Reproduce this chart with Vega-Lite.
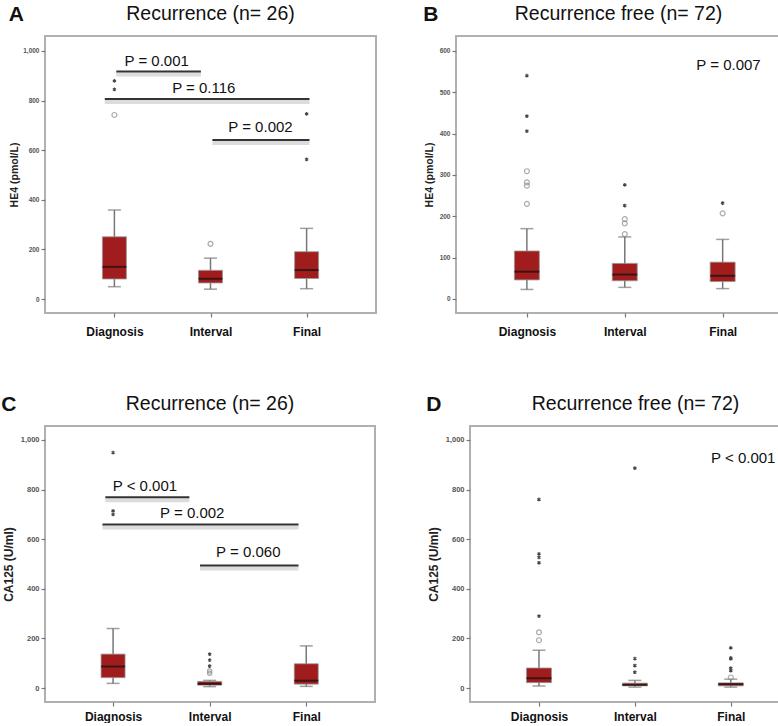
{
  "$schema": "https://vega.github.io/schema/vega-lite/v6.json",
  "background": "white",
  "padding": {"left": 1, "top": 2, "right": 0, "bottom": 0},
  "config": {
    "font": "Liberation Sans",
    "view": {"stroke": "#b0b0b0", "strokeWidth": 2},
    "axis": {"grid": false, "domain": false, "tickColor": "#777", "tickSize": 4, "tickWidth": 1.2, "labelColor": "#555", "labelFontWeight": "bold", "titleFontWeight": "bold", "titleColor": "#222"},
    "title": {"color": "#111"}
  },
  "datasets": {
    "boxes": [
      {"panel": "A", "group": "Diagnosis", "idx": 1, "lo": 50, "q1": 81, "med": 130, "q3": 251, "hi": 359},
      {"panel": "A", "group": "Interval", "idx": 2, "lo": 40, "q1": 65, "med": 82, "q3": 116, "hi": 165},
      {"panel": "A", "group": "Final", "idx": 3, "lo": 42, "q1": 83, "med": 117, "q3": 191, "hi": 285},
      {"panel": "B", "group": "Diagnosis", "idx": 1, "lo": 23, "q1": 46, "med": 66, "q3": 116, "hi": 170},
      {"panel": "B", "group": "Interval", "idx": 2, "lo": 28, "q1": 44, "med": 59, "q3": 86, "hi": 150},
      {"panel": "B", "group": "Final", "idx": 3, "lo": 25, "q1": 42, "med": 56, "q3": 89, "hi": 144},
      {"panel": "C", "group": "Diagnosis", "idx": 1, "lo": 19, "q1": 42, "med": 87, "q3": 137, "hi": 240},
      {"panel": "C", "group": "Interval", "idx": 2, "lo": 6, "q1": 12, "med": 17, "q3": 27, "hi": 31},
      {"panel": "C", "group": "Final", "idx": 3, "lo": 7, "q1": 16, "med": 30, "q3": 98, "hi": 170},
      {"panel": "D", "group": "Diagnosis", "idx": 1, "lo": 8, "q1": 22, "med": 40, "q3": 81, "hi": 152},
      {"panel": "D", "group": "Interval", "idx": 2, "lo": 4, "q1": 9, "med": 13, "q3": 20, "hi": 31},
      {"panel": "D", "group": "Final", "idx": 3, "lo": 4, "q1": 9, "med": 16, "q3": 21, "hi": 36}
    ],
    "outliers": [
      {"panel": "A", "idx": 1, "value": 879, "kind": "star"},
      {"panel": "A", "idx": 1, "value": 845, "kind": "star"},
      {"panel": "A", "idx": 1, "value": 742, "kind": "circle"},
      {"panel": "A", "idx": 2, "value": 223, "kind": "circle"},
      {"panel": "A", "idx": 3, "value": 746, "kind": "star"},
      {"panel": "A", "idx": 3, "value": 563, "kind": "star"},
      {"panel": "B", "idx": 1, "value": 540, "kind": "star"},
      {"panel": "B", "idx": 1, "value": 442, "kind": "star"},
      {"panel": "B", "idx": 1, "value": 406, "kind": "star"},
      {"panel": "B", "idx": 1, "value": 309, "kind": "circle"},
      {"panel": "B", "idx": 1, "value": 282, "kind": "circle"},
      {"panel": "B", "idx": 1, "value": 274, "kind": "circle"},
      {"panel": "B", "idx": 1, "value": 230, "kind": "circle"},
      {"panel": "B", "idx": 2, "value": 276, "kind": "star"},
      {"panel": "B", "idx": 2, "value": 226, "kind": "star"},
      {"panel": "B", "idx": 2, "value": 193, "kind": "circle"},
      {"panel": "B", "idx": 2, "value": 183, "kind": "circle"},
      {"panel": "B", "idx": 2, "value": 157, "kind": "circle"},
      {"panel": "B", "idx": 3, "value": 232, "kind": "star"},
      {"panel": "B", "idx": 3, "value": 207, "kind": "circle"},
      {"panel": "C", "idx": 1, "value": 949, "kind": "star"},
      {"panel": "C", "idx": 1, "value": 714, "kind": "star"},
      {"panel": "C", "idx": 1, "value": 700, "kind": "star"},
      {"panel": "C", "idx": 2, "value": 137, "kind": "star"},
      {"panel": "C", "idx": 2, "value": 113, "kind": "star"},
      {"panel": "C", "idx": 2, "value": 89, "kind": "star"},
      {"panel": "C", "idx": 2, "value": 69, "kind": "circle"},
      {"panel": "C", "idx": 2, "value": 60, "kind": "circle"},
      {"panel": "D", "idx": 1, "value": 760, "kind": "star"},
      {"panel": "D", "idx": 1, "value": 541, "kind": "star"},
      {"panel": "D", "idx": 1, "value": 527, "kind": "star"},
      {"panel": "D", "idx": 1, "value": 505, "kind": "star"},
      {"panel": "D", "idx": 1, "value": 290, "kind": "star"},
      {"panel": "D", "idx": 1, "value": 225, "kind": "circle"},
      {"panel": "D", "idx": 1, "value": 193, "kind": "circle"},
      {"panel": "D", "idx": 2, "value": 886, "kind": "star"},
      {"panel": "D", "idx": 2, "value": 119, "kind": "star"},
      {"panel": "D", "idx": 2, "value": 91, "kind": "star"},
      {"panel": "D", "idx": 2, "value": 64, "kind": "star"},
      {"panel": "D", "idx": 3, "value": 162, "kind": "star"},
      {"panel": "D", "idx": 3, "value": 122, "kind": "star"},
      {"panel": "D", "idx": 3, "value": 118, "kind": "star"},
      {"panel": "D", "idx": 3, "value": 80, "kind": "star"},
      {"panel": "D", "idx": 3, "value": 70, "kind": "star"},
      {"panel": "D", "idx": 3, "value": 43, "kind": "circle"}
    ],
    "plines": [
      {"panel": "A", "x1": 1.02, "x2": 1.9, "y": 917},
      {"panel": "A", "x1": 0.9, "x2": 3.03, "y": 806},
      {"panel": "A", "x1": 2.02, "x2": 3.03, "y": 641},
      {"panel": "C", "x1": 0.92, "x2": 1.79, "y": 769},
      {"panel": "C", "x1": 0.89, "x2": 2.92, "y": 659},
      {"panel": "C", "x1": 1.9, "x2": 2.92, "y": 494}
    ],
    "ptexts": [
      {"panel": "A", "x": 1.44, "y": 961, "label": "P = 0.001"},
      {"panel": "A", "x": 1.93, "y": 849, "label": "P = 0.116"},
      {"panel": "A", "x": 2.52, "y": 693, "label": "P = 0.002"},
      {"panel": "B", "x": 3.06, "y": 566, "label": "P = 0.007"},
      {"panel": "C", "x": 1.33, "y": 815, "label": "P < 0.001"},
      {"panel": "C", "x": 1.82, "y": 705, "label": "P = 0.002"},
      {"panel": "C", "x": 2.4, "y": 550, "label": "P = 0.060"},
      {"panel": "D", "x": 3.13, "y": 927, "label": "P < 0.001"}
    ]
  },
  "spacing": 54,
  "vconcat": [
    {
      "spacing": 46,
      "hconcat": [
        {
          "title": {"text": "A", "anchor": "start", "frame": "bounds", "fontSize": 21, "fontWeight": "bold", "offset": -22},
          "vconcat": [{
            "title": {"text": "Recurrence (n= 26)", "fontSize": 19.5, "fontWeight": "normal", "offset": 12},
            "width": 331, "height": 277,
            "layer": [
              {"data": {"name": "boxes"}, "transform": [{"filter": "datum.panel == 'A'"}],
               "mark": {"type": "rule", "color": "#777", "strokeWidth": 1.5},
               "encoding": {
                 "x": {"field": "idx", "type": "quantitative", "scale": {"domain": [0.33, 3.67], "nice": false, "zero": false},
                       "axis": {"values": [1, 2, 3], "labelExpr": "datum.value == 1 ? 'Diagnosis' : datum.value == 2 ? 'Interval' : 'Final'", "title": null, "labelFontSize": 12, "labelColor": "#111", "labelPadding": 9}},
                 "y": {"field": "lo", "type": "quantitative", "scale": {"domain": [-56, 1060], "nice": false, "zero": false},
                       "axis": {"values": [0, 200, 400, 600, 800, 1000], "format": ",.0f", "labelFontSize": 6.5, "labelPadding": 2, "title": "HE4 (pmol/L)", "titleFontSize": 10.5, "titlePadding": 3}},
                 "y2": {"field": "hi"}}},
              {"data": {"name": "boxes"}, "transform": [{"filter": "datum.panel == 'A'"}],
               "mark": {"type": "tick", "orient": "horizontal", "size": 13, "thickness": 1.5, "color": "#777"},
               "encoding": {"x": {"field": "idx", "type": "quantitative"}, "y": {"field": "lo", "type": "quantitative"}}},
              {"data": {"name": "boxes"}, "transform": [{"filter": "datum.panel == 'A'"}],
               "mark": {"type": "tick", "orient": "horizontal", "size": 13, "thickness": 1.5, "color": "#777"},
               "encoding": {"x": {"field": "idx", "type": "quantitative"}, "y": {"field": "hi", "type": "quantitative"}}},
              {"data": {"name": "boxes"}, "transform": [{"filter": "datum.panel == 'A'"}],
               "mark": {"type": "bar", "size": 24, "color": "#a11d1d", "stroke": "#999", "strokeWidth": 0.8},
               "encoding": {"x": {"field": "idx", "type": "quantitative"}, "y": {"field": "q1", "type": "quantitative"}, "y2": {"field": "q3"}}},
              {"data": {"name": "boxes"}, "transform": [{"filter": "datum.panel == 'A'"}],
               "mark": {"type": "tick", "orient": "horizontal", "size": 24, "thickness": 2, "color": "#111"},
               "encoding": {"x": {"field": "idx", "type": "quantitative"}, "y": {"field": "med", "type": "quantitative"}}},
              {"data": {"name": "outliers"}, "transform": [{"filter": "datum.panel == 'A' && datum.kind == 'circle'"}],
               "mark": {"type": "point", "shape": "circle", "filled": false, "size": 24, "color": "#888", "strokeWidth": 1.2},
               "encoding": {"x": {"field": "idx", "type": "quantitative"}, "y": {"field": "value", "type": "quantitative"}}},
              {"data": {"name": "outliers"}, "transform": [{"filter": "datum.panel == 'A' && datum.kind == 'star'"}],
               "mark": {"type": "point", "shape": "M0,-1L0,1M-0.87,-0.5L0.87,0.5M-0.87,0.5L0.87,-0.5", "filled": false, "size": 14, "color": "#444", "strokeWidth": 1.1, "opacity": 1},
               "encoding": {"x": {"field": "idx", "type": "quantitative"}, "y": {"field": "value", "type": "quantitative"}}},
              {"data": {"name": "plines"}, "transform": [{"filter": "datum.panel == 'A'"}],
               "mark": {"type": "rule", "color": "#dcdcdc", "strokeWidth": 4, "yOffset": 3},
               "encoding": {"x": {"field": "x1", "type": "quantitative"}, "x2": {"field": "x2"}, "y": {"field": "y", "type": "quantitative"}}},
              {"data": {"name": "plines"}, "transform": [{"filter": "datum.panel == 'A'"}],
               "mark": {"type": "rule", "color": "#333", "strokeWidth": 2},
               "encoding": {"x": {"field": "x1", "type": "quantitative"}, "x2": {"field": "x2"}, "y": {"field": "y", "type": "quantitative"}}},
              {"data": {"name": "ptexts"}, "transform": [{"filter": "datum.panel == 'A'"}],
               "mark": {"type": "text", "fontSize": 15, "color": "#111", "baseline": "middle", "align": "center"},
               "encoding": {"x": {"field": "x", "type": "quantitative"}, "y": {"field": "y", "type": "quantitative"}, "text": {"field": "label"}}}
            ]
          }]
        },
        {
          "title": {"text": "B", "anchor": "start", "frame": "bounds", "fontSize": 21, "fontWeight": "bold", "offset": -22},
          "vconcat": [{
            "title": {"text": "Recurrence free (n= 72)", "fontSize": 19.5, "fontWeight": "normal", "offset": 12},
            "width": 325, "height": 277,
            "layer": [
              {"data": {"name": "boxes"}, "transform": [{"filter": "datum.panel == 'B'"}],
               "mark": {"type": "rule", "color": "#777", "strokeWidth": 1.5},
               "encoding": {
                 "x": {"field": "idx", "type": "quantitative", "scale": {"domain": [0.327, 3.545], "nice": false, "zero": false},
                       "axis": {"values": [1, 2, 3], "labelExpr": "datum.value == 1 ? 'Diagnosis' : datum.value == 2 ? 'Interval' : 'Final'", "title": null, "labelFontSize": 12, "labelColor": "#111", "labelPadding": 9}},
                 "y": {"field": "lo", "type": "quantitative", "scale": {"domain": [-34, 636], "nice": false, "zero": false},
                       "axis": {"values": [0, 100, 200, 300, 400, 500, 600], "format": ",.0f", "labelFontSize": 6.5, "labelPadding": 2, "title": "HE4 (pmol/L)", "titleFontSize": 10.5, "titlePadding": 5}},
                 "y2": {"field": "hi"}}},
              {"data": {"name": "boxes"}, "transform": [{"filter": "datum.panel == 'B'"}],
               "mark": {"type": "tick", "orient": "horizontal", "size": 13, "thickness": 1.5, "color": "#777"},
               "encoding": {"x": {"field": "idx", "type": "quantitative"}, "y": {"field": "lo", "type": "quantitative"}}},
              {"data": {"name": "boxes"}, "transform": [{"filter": "datum.panel == 'B'"}],
               "mark": {"type": "tick", "orient": "horizontal", "size": 13, "thickness": 1.5, "color": "#777"},
               "encoding": {"x": {"field": "idx", "type": "quantitative"}, "y": {"field": "hi", "type": "quantitative"}}},
              {"data": {"name": "boxes"}, "transform": [{"filter": "datum.panel == 'B'"}],
               "mark": {"type": "bar", "size": 25, "color": "#a11d1d", "stroke": "#999", "strokeWidth": 0.8},
               "encoding": {"x": {"field": "idx", "type": "quantitative"}, "y": {"field": "q1", "type": "quantitative"}, "y2": {"field": "q3"}}},
              {"data": {"name": "boxes"}, "transform": [{"filter": "datum.panel == 'B'"}],
               "mark": {"type": "tick", "orient": "horizontal", "size": 25, "thickness": 2, "color": "#111"},
               "encoding": {"x": {"field": "idx", "type": "quantitative"}, "y": {"field": "med", "type": "quantitative"}}},
              {"data": {"name": "outliers"}, "transform": [{"filter": "datum.panel == 'B' && datum.kind == 'circle'"}],
               "mark": {"type": "point", "shape": "circle", "filled": false, "size": 24, "color": "#888", "strokeWidth": 1.2},
               "encoding": {"x": {"field": "idx", "type": "quantitative"}, "y": {"field": "value", "type": "quantitative"}}},
              {"data": {"name": "outliers"}, "transform": [{"filter": "datum.panel == 'B' && datum.kind == 'star'"}],
               "mark": {"type": "point", "shape": "M0,-1L0,1M-0.87,-0.5L0.87,0.5M-0.87,0.5L0.87,-0.5", "filled": false, "size": 14, "color": "#444", "strokeWidth": 1.1, "opacity": 1},
               "encoding": {"x": {"field": "idx", "type": "quantitative"}, "y": {"field": "value", "type": "quantitative"}}},
              {"data": {"name": "ptexts"}, "transform": [{"filter": "datum.panel == 'B'"}],
               "mark": {"type": "text", "fontSize": 15, "color": "#111", "baseline": "middle", "align": "center"},
               "encoding": {"x": {"field": "x", "type": "quantitative"}, "y": {"field": "y", "type": "quantitative"}, "text": {"field": "label"}}}
            ]
          }]
        }
      ]
    },
    {
      "spacing": 50,
      "hconcat": [
        {
          "title": {"text": "C", "anchor": "start", "frame": "bounds", "fontSize": 21, "fontWeight": "bold", "offset": -22},
          "vconcat": [{
            "title": {"text": "Recurrence (n= 26)", "fontSize": 19.5, "fontWeight": "normal", "offset": 12},
            "width": 330, "height": 276,
            "layer": [
              {"data": {"name": "boxes"}, "transform": [{"filter": "datum.panel == 'C'"}],
               "mark": {"type": "rule", "color": "#777", "strokeWidth": 1.5},
               "encoding": {
                 "x": {"field": "idx", "type": "quantitative", "scale": {"domain": [0.347, 3.66], "nice": false, "zero": false},
                       "axis": {"values": [1, 2, 3], "labelExpr": "datum.value == 1 ? 'Diagnosis' : datum.value == 2 ? 'Interval' : 'Final'", "title": null, "labelFontSize": 12, "labelColor": "#111", "labelPadding": 5}},
                 "y": {"field": "lo", "type": "quantitative", "scale": {"domain": [-56, 1056], "nice": false, "zero": false},
                       "axis": {"values": [0, 200, 400, 600, 800, 1000], "format": ",.0f", "labelFontSize": 7.5, "labelPadding": 2, "title": "CA125 (U/ml)", "titleFontSize": 12, "titlePadding": 5}},
                 "y2": {"field": "hi"}}},
              {"data": {"name": "boxes"}, "transform": [{"filter": "datum.panel == 'C'"}],
               "mark": {"type": "tick", "orient": "horizontal", "size": 13, "thickness": 1.5, "color": "#777"},
               "encoding": {"x": {"field": "idx", "type": "quantitative"}, "y": {"field": "lo", "type": "quantitative"}}},
              {"data": {"name": "boxes"}, "transform": [{"filter": "datum.panel == 'C'"}],
               "mark": {"type": "tick", "orient": "horizontal", "size": 13, "thickness": 1.5, "color": "#777"},
               "encoding": {"x": {"field": "idx", "type": "quantitative"}, "y": {"field": "hi", "type": "quantitative"}}},
              {"data": {"name": "boxes"}, "transform": [{"filter": "datum.panel == 'C'"}],
               "mark": {"type": "bar", "size": 24, "color": "#a11d1d", "stroke": "#999", "strokeWidth": 0.8},
               "encoding": {"x": {"field": "idx", "type": "quantitative"}, "y": {"field": "q1", "type": "quantitative"}, "y2": {"field": "q3"}}},
              {"data": {"name": "boxes"}, "transform": [{"filter": "datum.panel == 'C'"}],
               "mark": {"type": "tick", "orient": "horizontal", "size": 24, "thickness": 2, "color": "#111"},
               "encoding": {"x": {"field": "idx", "type": "quantitative"}, "y": {"field": "med", "type": "quantitative"}}},
              {"data": {"name": "outliers"}, "transform": [{"filter": "datum.panel == 'C' && datum.kind == 'circle'"}],
               "mark": {"type": "point", "shape": "circle", "filled": false, "size": 18, "color": "#888", "strokeWidth": 1.2},
               "encoding": {"x": {"field": "idx", "type": "quantitative"}, "y": {"field": "value", "type": "quantitative"}}},
              {"data": {"name": "outliers"}, "transform": [{"filter": "datum.panel == 'C' && datum.kind == 'star'"}],
               "mark": {"type": "point", "shape": "M0,-1L0,1M-0.87,-0.5L0.87,0.5M-0.87,0.5L0.87,-0.5", "filled": false, "size": 14, "color": "#444", "strokeWidth": 1.1, "opacity": 1},
               "encoding": {"x": {"field": "idx", "type": "quantitative"}, "y": {"field": "value", "type": "quantitative"}}},
              {"data": {"name": "plines"}, "transform": [{"filter": "datum.panel == 'C'"}],
               "mark": {"type": "rule", "color": "#dcdcdc", "strokeWidth": 4, "yOffset": 3},
               "encoding": {"x": {"field": "x1", "type": "quantitative"}, "x2": {"field": "x2"}, "y": {"field": "y", "type": "quantitative"}}},
              {"data": {"name": "plines"}, "transform": [{"filter": "datum.panel == 'C'"}],
               "mark": {"type": "rule", "color": "#333", "strokeWidth": 2},
               "encoding": {"x": {"field": "x1", "type": "quantitative"}, "x2": {"field": "x2"}, "y": {"field": "y", "type": "quantitative"}}},
              {"data": {"name": "ptexts"}, "transform": [{"filter": "datum.panel == 'C'"}],
               "mark": {"type": "text", "fontSize": 15, "color": "#111", "baseline": "middle", "align": "center"},
               "encoding": {"x": {"field": "x", "type": "quantitative"}, "y": {"field": "y", "type": "quantitative"}, "text": {"field": "label"}}}
            ]
          }]
        },
        {
          "title": {"text": "D", "anchor": "start", "frame": "bounds", "fontSize": 21, "fontWeight": "bold", "offset": -22},
          "vconcat": [{
            "title": {"text": "Recurrence free (n= 72)", "fontSize": 19.5, "fontWeight": "normal", "offset": 12},
            "width": 331, "height": 276,
            "layer": [
              {"data": {"name": "boxes"}, "transform": [{"filter": "datum.panel == 'D'"}],
               "mark": {"type": "rule", "color": "#777", "strokeWidth": 1.5},
               "encoding": {
                 "x": {"field": "idx", "type": "quantitative", "scale": {"domain": [0.333, 3.68], "nice": false, "zero": false},
                       "axis": {"values": [1, 2, 3], "labelExpr": "datum.value == 1 ? 'Diagnosis' : datum.value == 2 ? 'Interval' : 'Final'", "title": null, "labelFontSize": 12, "labelColor": "#111", "labelPadding": 5}},
                 "y": {"field": "lo", "type": "quantitative", "scale": {"domain": [-56, 1056], "nice": false, "zero": false},
                       "axis": {"values": [0, 200, 400, 600, 800, 1000], "format": ",.0f", "labelFontSize": 7.5, "labelPadding": 2, "title": "CA125 (U/ml)", "titleFontSize": 12, "titlePadding": 5}},
                 "y2": {"field": "hi"}}},
              {"data": {"name": "boxes"}, "transform": [{"filter": "datum.panel == 'D'"}],
               "mark": {"type": "tick", "orient": "horizontal", "size": 13, "thickness": 1.5, "color": "#777"},
               "encoding": {"x": {"field": "idx", "type": "quantitative"}, "y": {"field": "lo", "type": "quantitative"}}},
              {"data": {"name": "boxes"}, "transform": [{"filter": "datum.panel == 'D'"}],
               "mark": {"type": "tick", "orient": "horizontal", "size": 13, "thickness": 1.5, "color": "#777"},
               "encoding": {"x": {"field": "idx", "type": "quantitative"}, "y": {"field": "hi", "type": "quantitative"}}},
              {"data": {"name": "boxes"}, "transform": [{"filter": "datum.panel == 'D'"}],
               "mark": {"type": "bar", "size": 25, "color": "#a11d1d", "stroke": "#999", "strokeWidth": 0.8},
               "encoding": {"x": {"field": "idx", "type": "quantitative"}, "y": {"field": "q1", "type": "quantitative"}, "y2": {"field": "q3"}}},
              {"data": {"name": "boxes"}, "transform": [{"filter": "datum.panel == 'D'"}],
               "mark": {"type": "tick", "orient": "horizontal", "size": 25, "thickness": 2, "color": "#111"},
               "encoding": {"x": {"field": "idx", "type": "quantitative"}, "y": {"field": "med", "type": "quantitative"}}},
              {"data": {"name": "outliers"}, "transform": [{"filter": "datum.panel == 'D' && datum.kind == 'circle'"}],
               "mark": {"type": "point", "shape": "circle", "filled": false, "size": 24, "color": "#888", "strokeWidth": 1.2},
               "encoding": {"x": {"field": "idx", "type": "quantitative"}, "y": {"field": "value", "type": "quantitative"}}},
              {"data": {"name": "outliers"}, "transform": [{"filter": "datum.panel == 'D' && datum.kind == 'star'"}],
               "mark": {"type": "point", "shape": "M0,-1L0,1M-0.87,-0.5L0.87,0.5M-0.87,0.5L0.87,-0.5", "filled": false, "size": 14, "color": "#444", "strokeWidth": 1.1, "opacity": 1},
               "encoding": {"x": {"field": "idx", "type": "quantitative"}, "y": {"field": "value", "type": "quantitative"}}},
              {"data": {"name": "ptexts"}, "transform": [{"filter": "datum.panel == 'D'"}],
               "mark": {"type": "text", "fontSize": 15, "color": "#111", "baseline": "middle", "align": "center"},
               "encoding": {"x": {"field": "x", "type": "quantitative"}, "y": {"field": "y", "type": "quantitative"}, "text": {"field": "label"}}}
            ]
          }]
        }
      ]
    }
  ]
}
